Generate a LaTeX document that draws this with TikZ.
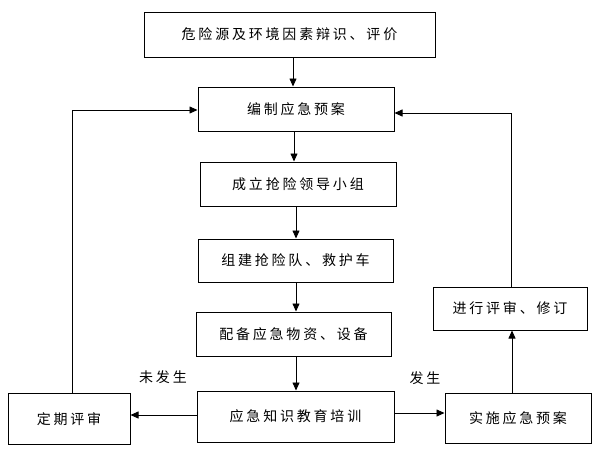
\documentclass[tikz,border=0pt]{standalone}
\usepackage{fontspec}
\newfontfamily\cjk[LetterSpace=20]{Noto Sans CJK SC}
\usetikzlibrary{arrows.meta}

\begin{document}
\begin{tikzpicture}[x=1pt, y=-1pt,
	box/.style={draw, line width=1pt, inner sep=0pt, font=\cjk\fontsize{14}{16}\selectfont},
	lbl/.style={font=\cjk\fontsize{14}{16}\selectfont},
	arr/.style={line width=0.8pt, -{Triangle[width=7pt,length=8pt]}}]
	\useasboundingbox (0,0) rectangle (600,450);
	\node (hazard) at (289.5,34.5) [box, minimum width=291pt, minimum height=45pt] {危险源及环境因素辩识、评价};
	\node (plan) at (296,109) [box, minimum width=196pt, minimum height=44pt] {编制应急预案};
		\node (team) at (298,184) [box, minimum width=196pt, minimum height=44pt] {成立抢险领导小组};
		\node (squad) at (295.5,260.5) [box, minimum width=195pt, minimum height=43pt] {组建抢险队、救护车};
		\node (supply) at (293.5,334) [box, minimum width=195pt, minimum height=44pt] {配备应急物资、设备};
		\node (train) at (295.5,416.5) [box, minimum width=197pt, minimum height=51pt] {应急知识教育培训};
	\node (review) at (69,419) [box, minimum width=122pt, minimum height=51pt] {定期评审};
	\node (implement) at (518,418) [box, minimum width=146pt, minimum height=50pt] {实施应急预案};
		\node (revise) at (510,308.5) [box, minimum width=154pt, minimum height=43pt] {进行评审、修订};
	\node (nohappen) at (163,377) [lbl] {未发生};
	\node (happen) at (425,378) [lbl] {发生};
	\coordinate (lturn) at (72,110);
	\coordinate (rturn) at (511,113);
	\draw[arr] (hazard.south -| 293,0) -- (plan.north -| 293,0);
	\draw[arr] (plan.south -| 294,0) -- (team.north -| 294,0);
	\draw[arr] (team.south -| 296,0) -- (squad.north -| 296,0);
	\draw[arr] (squad.south -| 296,0) -- (supply.north -| 296,0);
	\draw[arr] (supply.south -| 296,0) -- (train.north -| 296,0);
	\draw[arr] (train.west |- 0,415) -- (review.east |- 0,415);
	\draw[arr] (train.east |- 0,413) -- (implement.west |- 0,413);
	\draw[arr] (implement.north -| 512,0) -- (revise.south -| 512,0);
	\draw[arr] (review.north -| lturn) -- (lturn) -- (lturn -| plan.west);
	\draw[arr] (revise.north -| rturn) -- (rturn) -- (rturn -| plan.east);
\end{tikzpicture}
\end{document}
